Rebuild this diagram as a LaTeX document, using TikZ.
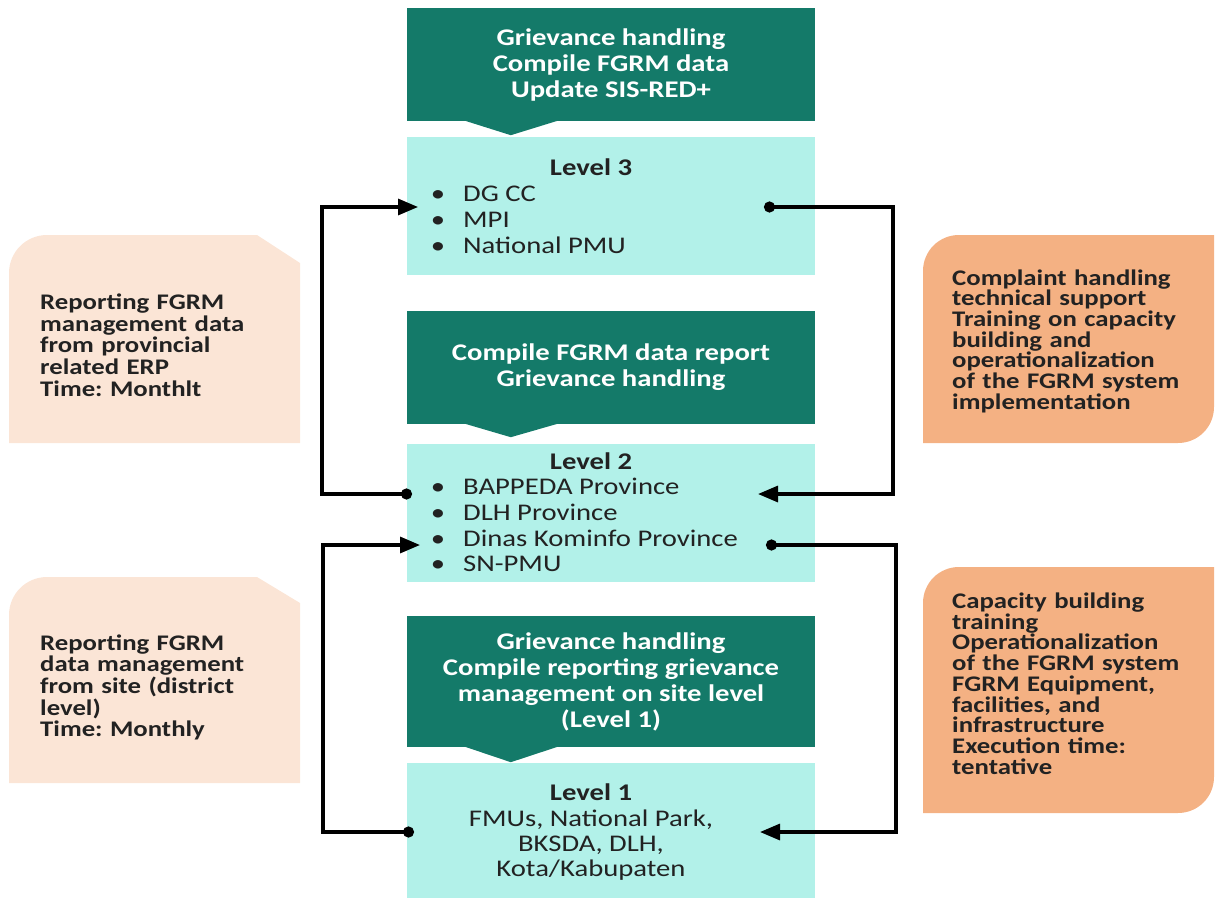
\documentclass[tikz,border=0pt]{standalone}
\usepackage{fontspec}
\setmainfont{Carlito}[FakeStretch=1.2]
\usetikzlibrary{arrows.meta}
\definecolor{dkgreen}{HTML}{147A69}
\definecolor{ltcyan}{HTML}{B2F1E9}
\definecolor{peach}{HTML}{FBE5D6}
\definecolor{orng}{HTML}{F4B183}
\definecolor{txt}{HTML}{222222}
\frenchspacing
\begin{document}
\begin{tikzpicture}[x=1pt,y=-1pt,
  gbox/.style={fill=dkgreen, minimum width=408pt, inner sep=0pt, text=white,
    font=\bfseries\fontsize{23.9}{26}\selectfont, align=center},
  lbox/.style={fill=ltcyan, minimum width=408pt, inner sep=0pt},
  ttl/.style={anchor=base, inner sep=0pt, text=txt, font=\bfseries\fontsize{23.9}{26}\selectfont},
  itm/.style={anchor=base west, inner sep=0pt, text=txt, font=\fontsize{23.9}{26}\selectfont},
  bul/.style={anchor=base, inner sep=0pt, text=txt, font=\fontsize{23.9}{26}\selectfont},
  peachtxt/.style={anchor=base west, inner sep=0pt, text=txt, align=left, text width=260pt,
    font=\bfseries\fontsize{22.3}{21.7}\selectfont},
  orngtxt/.style={anchor=base west, inner sep=0pt, text=txt, align=left, text width=262pt,
    font=\bfseries\fontsize{22.3}{20.7}\selectfont},
  pointer/.style={fill=dkgreen},
  conn/.style={line width=3.2pt, {Circle[length=11pt]}-{Triangle[length=20pt,width=16pt]}}
]
\useasboundingbox (0,0) rectangle (1219,899);

% side shapes
\fill[peach] (9,443) -- (9,273) .. controls (9,252) and (26,235) .. (47,235) -- (257,235) -- (300,263) -- (300,443) -- cycle;
\fill[peach] (9,783) -- (9,615) .. controls (9,594) and (26,577) .. (47,577) -- (257,577) -- (300,603) -- (300,783) -- cycle;
\fill[orng] (923,443) -- (923,271) .. controls (923,251) and (939,235) .. (959,235) -- (1214,235) -- (1214,407) .. controls (1214,427) and (1198,443) .. (1178,443) -- cycle;
\fill[orng] (923,813) -- (923,603) .. controls (923,583) and (939,567) .. (959,567) -- (1214,567) -- (1214,777) .. controls (1214,797) and (1198,813) .. (1178,813) -- cycle;

\node[peachtxt] (p1) at (40,309.5) {Reporting FGRM\\management data\\from provincial\\related ERP\\Time: Monthlt};
\node[peachtxt] (p2) at (40,650) {Reporting FGRM\\data management\\from site (district\\level)\\Time: Monthly};
\node[orngtxt] (o1) at (952,285) {Complaint handling\\technical support\\Training on capacity\\building and\\operationalization\\of the FGRM system\\implementation};
\node[orngtxt] (o2) at (952,608.5) {Capacity building\\training\\Operationalization\\of the FGRM system\\FGRM Equipment,\\facilities, and\\infrastructure\\Execution time:\\tentative};

% green boxes
\node[gbox, minimum height=113pt] (g3) at (611,64.5) {Grievance handling\\Compile FGRM data\\Update SIS-RED+};
\fill[pointer] ([xshift=58pt,yshift=0.5pt]g3.south west) -- ([xshift=104pt,yshift=-14pt]g3.south west) -- ([xshift=151pt,yshift=0.5pt]g3.south west) -- cycle;
\node[gbox, minimum height=113pt] (g2) at (611,367.5) {Compile FGRM data report\\Grievance handling};
\fill[pointer] ([xshift=58pt,yshift=0.5pt]g2.south west) -- ([xshift=104pt,yshift=-13pt]g2.south west) -- ([xshift=151pt,yshift=0.5pt]g2.south west) -- cycle;
\node[gbox, minimum height=131pt] (g1) at (611,681.5) {Grievance handling\\Compile reporting grievance\\management on site level\\(Level 1)};
\fill[pointer] ([xshift=58pt,yshift=0.5pt]g1.south west) -- ([xshift=104pt,yshift=-15pt]g1.south west) -- ([xshift=151pt,yshift=0.5pt]g1.south west) -- cycle;

% level boxes
\node[lbox, minimum height=138pt] (L3) at (611,206) {};
\node[lbox, minimum height=138pt] (L2) at (611,513) {};
\node[lbox, minimum height=135pt] (L1) at (611,830.5) {};

\node[ttl] (L3t) at (591,175) {Level 3};
\foreach \t [count=\i] in {DG CC, MPI, National PMU}{
  \node[bul] (L3b\i) at (438,{175+26*\i}) {•};
  \node[itm] (L3i\i) at (463,{175+26*\i}) {\t};
}
\node[ttl] (L2t) at (591,469) {Level 2};
\foreach \t [count=\i] in {BAPPEDA Province, DLH Province, Dinas Kominfo Province, SN-PMU}{
  \node[bul] (L2b\i) at (438,{469+25.7*\i}) {•};
  \node[itm] (L2i\i) at (463,{469+25.7*\i}) {\t};
}
\node[ttl] (L1t) at (591,800.7) {Level 1};
\node[bul] (L1a) at (591,826) {FMUs, National Park,};
\node[bul] (L1b) at (591,851.7) {BKSDA, DLH,};
\node[bul] (L1c) at (591,876.7) {Kota/Kabupaten};

% connectors
\coordinate (c1s) at (412,494); \coordinate (c1e) at (418,207); \coordinate (c1x) at (322,0);
\coordinate (c2s) at (764,207); \coordinate (c2e) at (758,494); \coordinate (c2x) at (893,0);
\coordinate (c3s) at (414,832); \coordinate (c3e) at (420,545); \coordinate (c3x) at (323,0);
\coordinate (c4s) at (766,545); \coordinate (c4e) at (760,832); \coordinate (c4x) at (896,0);
\draw[conn] (c1s) -- (c1s -| c1x) |- (c1e);
\draw[conn] (c2s) -- (c2s -| c2x) |- (c2e);
\draw[conn] (c3s) -- (c3s -| c3x) |- (c3e);
\draw[conn] (c4s) -- (c4s -| c4x) |- (c4e);
\end{tikzpicture}
\end{document}
